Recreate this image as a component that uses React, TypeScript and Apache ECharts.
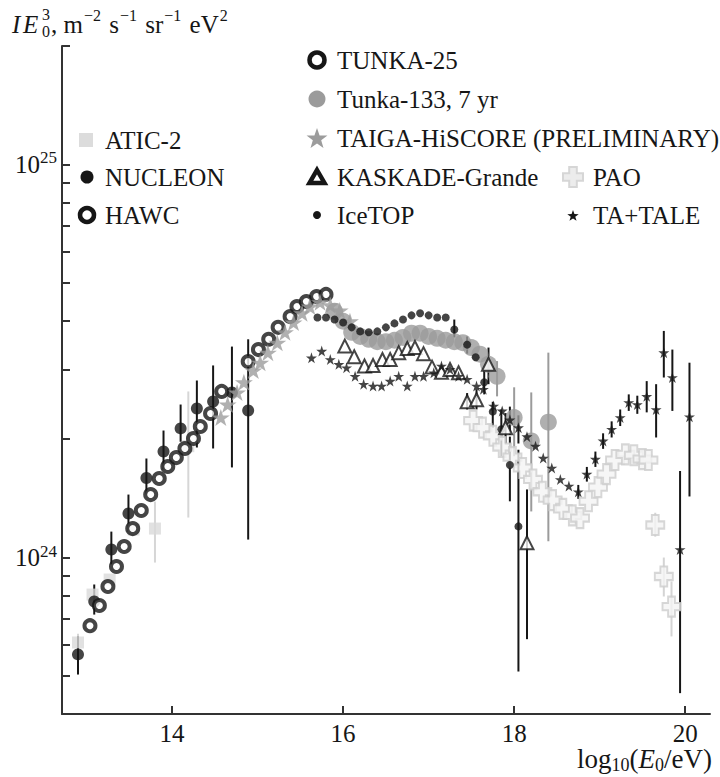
import React, { useEffect, useRef } from 'react';
import * as echarts from 'echarts';

const FONT = "'Liberation Serif', 'Times New Roman', serif";
const INK = '#161616';

// x: log10(E0/eV); y: I*E0^3 in units of 1e24 m^-2 s^-1 sr^-1 eV^2
const X_TICKS = [14, 16, 18, 20];
const Y_LABELS = [1, 10];
const Y_TICKS = [0.5, 0.6, 0.7, 0.8, 0.9, 1, 2, 3, 4, 5, 6, 7, 8, 9, 10, 20];

const ATIC2 = [[12.9, 0.608], [13.07, 0.805], [13.27, 0.879], [13.55, 1.178], [13.8, 1.185], [14.19, 1.92]];
const ATIC2_ERR = [[12.9, 0.58, 0.64], [13.8, 0.971, 1.388], [14.19, 1.264, 2.645]];

const NUCLEON = [[12.9, 0.567], [13.09, 0.773], [13.29, 1.048], [13.49, 1.294], [13.7, 1.593], [13.9, 1.861], [14.1, 2.13], [14.29, 2.394], [14.48, 2.494], [14.7, 2.63], [14.89, 2.366]];
const NUCLEON_ERR = [[12.9, 0.504, 0.629], [13.09, 0.716, 0.854], [13.29, 0.96, 1.164], [13.49, 1.164, 1.446], [13.7, 1.446, 1.786], [13.9, 1.675, 2.104], [14.1, 1.97, 2.45], [14.29, 1.905, 2.82], [14.48, 1.894, 3.08], [14.7, 1.695, 3.44], [14.89, 1.111, 3.59]];

const HAWC = [[13.04, 0.671], [13.15, 0.755], [13.25, 0.844], [13.35, 0.949], [13.44, 1.067], [13.54, 1.185], [13.64, 1.317], [13.75, 1.446], [13.85, 1.589], [13.95, 1.704], [14.05, 1.796], [14.15, 1.894], [14.25, 2.008], [14.33, 2.154], [14.45, 2.325], [14.58, 2.646]];

const TUNKA25 = [[14.89, 3.15], [15.01, 3.38], [15.13, 3.59], [15.24, 3.85], [15.38, 4.1], [15.46, 4.35], [15.57, 4.48], [15.69, 4.61], [15.8, 4.67]];

const TUNKA133 = [[15.9, 4.23], [16.0, 3.99], [16.1, 3.74], [16.2, 3.65], [16.3, 3.59], [16.4, 3.54], [16.5, 3.54], [16.6, 3.57], [16.7, 3.63], [16.8, 3.72], [16.9, 3.72], [17.0, 3.65], [17.1, 3.61], [17.2, 3.57], [17.3, 3.54], [17.4, 3.52], [17.5, 3.42], [17.6, 3.29], [17.7, 3.1], [17.8, 2.89], [18.0, 2.27], [18.2, 1.98], [18.4, 2.21]];
const TUNKA133_ERR = [[17.8, 2.57, 3.16], [18.0, 1.81, 2.71], [18.2, 1.31, 2.63], [18.4, 1.1, 3.32]];

const HISCORE = [[14.57, 2.27], [14.65, 2.45], [14.76, 2.63], [14.84, 2.79], [14.95, 2.99], [15.03, 3.13], [15.12, 3.32], [15.23, 3.52], [15.32, 3.74], [15.42, 3.96], [15.52, 4.18], [15.61, 4.35], [15.73, 4.46], [15.85, 4.38], [15.96, 4.25], [16.08, 3.99]];

const ICETOP = [[15.7, 4.08], [15.8, 4.08], [15.9, 4.03], [16.0, 3.96], [16.1, 3.85], [16.2, 3.76], [16.3, 3.74], [16.4, 3.76], [16.5, 3.85], [16.6, 3.94], [16.7, 4.03], [16.8, 4.13], [16.9, 4.18], [17.0, 4.13], [17.1, 4.08], [17.2, 4.08], [17.3, 3.8], [17.45, 3.48], [17.55, 3.23], [17.65, 2.79], [17.75, 2.35], [17.85, 2.12], [17.95, 1.72], [18.05, 1.2]];
const ICETOP_ERR = [[17.3, 3.63, 4.03], [17.45, 3.3, 3.65], [17.65, 2.6, 3.0], [17.75, 2.14, 2.49], [17.85, 1.81, 2.38], [17.95, 1.39, 2.03], [18.05, 0.513, 1.88]];

const KASKADE = [[16.02, 3.45], [16.13, 3.24], [16.25, 3.07], [16.35, 3.08], [16.46, 3.19], [16.55, 3.19], [16.65, 3.32], [16.75, 3.4], [16.84, 3.42], [16.94, 3.3], [17.04, 3.05], [17.15, 2.96], [17.25, 3.01], [17.35, 2.95], [17.45, 2.49], [17.56, 2.52], [17.7, 3.1], [17.9, 2.14], [18.15, 1.09]];
const KASKADE_ERR = [[17.45, 2.38, 2.62], [17.56, 2.38, 2.68], [17.7, 2.76, 3.42], [17.9, 1.95, 2.33], [18.15, 0.62, 1.49]];

const PAO = [[17.52, 2.23], [17.63, 2.14], [17.75, 2.04], [17.86, 1.91], [17.98, 1.8], [18.1, 1.69], [18.22, 1.58], [18.33, 1.47], [18.45, 1.4], [18.57, 1.33], [18.68, 1.28], [18.77, 1.26], [18.87, 1.39], [18.98, 1.51], [19.08, 1.63], [19.18, 1.77], [19.3, 1.83], [19.4, 1.82], [19.5, 1.78], [19.57, 1.77], [19.65, 1.21], [19.75, 0.895], [19.84, 0.75]];
const PAO_ERR = [[19.65, 1.13, 1.3], [19.75, 0.796, 1.0], [19.84, 0.63, 0.869]];

const TA_TALE = [[15.63, 3.22], [15.75, 3.35], [15.85, 3.19], [15.95, 3.1], [16.04, 3.04], [16.14, 2.89], [16.24, 2.76], [16.35, 2.73], [16.45, 2.73], [16.55, 2.81], [16.65, 2.89], [16.75, 2.73], [16.84, 2.89], [16.94, 2.89], [17.06, 2.95], [17.15, 3.07], [17.25, 3.01], [17.35, 2.89], [17.45, 2.84], [17.56, 2.73], [17.64, 2.68], [17.76, 2.43], [17.86, 2.36], [17.95, 2.24], [18.05, 2.14], [18.15, 2.03], [18.25, 1.92], [18.34, 1.79], [18.44, 1.69], [18.54, 1.58], [18.64, 1.52], [18.75, 1.47], [18.85, 1.63], [18.95, 1.78], [19.04, 1.98], [19.14, 2.12], [19.24, 2.27], [19.34, 2.48], [19.44, 2.45], [19.55, 2.57], [19.66, 2.38], [19.75, 3.32], [19.85, 2.87], [19.94, 1.048], [20.05, 2.28]];
const TA_TALE_ERR = [[17.95, 2.05, 2.42], [18.05, 1.95, 2.3], [18.75, 1.41, 1.53], [18.85, 1.56, 1.7], [18.95, 1.7, 1.86], [19.04, 1.89, 2.07], [19.14, 2.02, 2.22], [19.24, 2.16, 2.38], [19.34, 2.36, 2.6], [19.44, 2.32, 2.58], [19.55, 2.34, 2.81], [19.66, 2.02, 2.76], [19.75, 2.87, 3.77], [19.85, 2.36, 3.38], [19.94, 0.452, 1.66], [20.05, 1.43, 3.13]];

const STAR = 'path://M0,-100L22.4,-30.9L95.1,-30.9L36.3,11.8L58.8,80.9L0,38.2L-58.8,80.9L-36.3,11.8L-95.1,-30.9L-22.4,-30.9Z';
const PLUS = 'path://M-38,-100L38,-100L38,-36L100,-36L100,36L38,36L38,100L-38,100L-38,36L-100,36L-100,-36L-38,-36Z';

function errSeries(data: number[][], color: string) {
  return {
    type: 'custom',
    data,
    silent: true,
    encode: { x: 0, y: [1, 2] },
    renderItem: (_p: any, api: any) => {
      const x = api.value(0);
      const a = api.coord([x, api.value(1)]);
      const b = api.coord([x, api.value(2)]);
      return {
        type: 'line',
        shape: { x1: a[0], y1: a[1], x2: b[0], y2: b[1] },
        style: { stroke: color, lineWidth: 2 },
      };
    },
  };
}

function scatter(name: string, data: number[][], symbol: string, size: any, itemStyle: any) {
  return { type: 'scatter', name, data, symbol, symbolSize: size, itemStyle, silent: true };
}

function starPts(cx: number, cy: number, R: number) {
  const pts: number[][] = [];
  for (let k = 0; k < 10; k++) {
    const r = k % 2 === 0 ? R : R * 0.4;
    const a = -Math.PI / 2 + (k * Math.PI) / 5;
    pts.push([cx + r * Math.cos(a), cy + r * Math.sin(a)]);
  }
  return pts;
}
function plusPts(cx: number, cy: number, h: number, w: number) {
  const t = w * 0.38;
  const s = h * 0.38;
  return [[cx - t, cy - h], [cx + t, cy - h], [cx + t, cy - s], [cx + w, cy - s], [cx + w, cy + s], [cx + t, cy + s], [cx + t, cy + h], [cx - t, cy + h], [cx - t, cy + s], [cx - w, cy + s], [cx - w, cy - s], [cx - t, cy - s]];
}

function legendText(x: number, y: number, text: string) {
  return { type: 'text', x, y, silent: true, style: { text, fontSize: 25, fontFamily: FONT, fill: INK, verticalAlign: 'middle', align: 'left' } };
}

function buildLegend() {
  const els: any[] = [];
  // left column
  els.push({ type: 'rect', shape: { x: 79, y: 133, width: 14, height: 14 }, style: { fill: '#dcdcdc' } });
  els.push(legendText(105, 140, 'ATIC-2'));
  els.push({ type: 'circle', shape: { cx: 87, cy: 177, r: 6.5 }, style: { fill: INK } });
  els.push(legendText(105, 177, 'NUCLEON'));
  els.push({ type: 'circle', shape: { cx: 87, cy: 215, r: 7 }, style: { fill: '#fff', stroke: INK, lineWidth: 4.5 } });
  els.push(legendText(105, 215, 'HAWC'));
  // middle column
  els.push({ type: 'circle', shape: { cx: 317, cy: 60, r: 7.5 }, style: { fill: '#fff', stroke: INK, lineWidth: 4.5 } });
  els.push(legendText(337, 60, 'TUNKA-25'));
  els.push({ type: 'circle', shape: { cx: 317, cy: 99, r: 8.5 }, style: { fill: '#9b9b9b' } });
  els.push(legendText(337, 99, 'Tunka-133, 7 yr'));
  els.push({ type: 'polygon', shape: { points: starPts(317, 139, 11) }, style: { fill: '#9c9c9c' } });
  els.push(legendText(337, 138, 'TAIGA-HiSCORE (PRELIMINARY)'));
  els.push({ type: 'polygon', shape: { points: [[317, 170], [324.5, 183], [309.5, 183]] }, style: { fill: '#fff', stroke: INK, lineWidth: 4.5, lineJoin: 'miter' } });
  els.push(legendText(337, 177, 'KASKADE-Grande'));
  els.push({ type: 'circle', shape: { cx: 317, cy: 215, r: 4 }, style: { fill: INK } });
  els.push(legendText(337, 215, 'IceTOP'));
  // right column
  els.push({ type: 'polygon', shape: { points: plusPts(573, 177, 10, 10) }, style: { fill: '#ececec', stroke: '#d6d6d6', lineWidth: 2 } });
  els.push(legendText(593, 177, 'PAO'));
  els.push({ type: 'polygon', shape: { points: starPts(573, 216, 6) }, style: { fill: INK } });
  els.push(legendText(593, 215, 'TA+TALE'));

  // y axis title
  els.push({ type: 'text', x: 12, y: 24, silent: true, style: { text: 'I', fontSize: 25, fontStyle: 'italic', fontFamily: FONT, fill: INK, verticalAlign: 'middle' } });
  els.push({ type: 'text', x: 23, y: 24, silent: true, style: { text: 'E', fontSize: 25, fontStyle: 'italic', fontFamily: FONT, fill: INK, verticalAlign: 'middle' } });
  els.push({ type: 'text', x: 42, y: 14, silent: true, style: { text: '3', fontSize: 16, fontFamily: FONT, fill: INK, verticalAlign: 'middle' } });
  els.push({ type: 'text', x: 42, y: 31, silent: true, style: { text: '0', fontSize: 16, fontFamily: FONT, fill: INK, verticalAlign: 'middle' } });
  els.push({
    type: 'text', x: 51, y: 24, silent: true,
    style: {
      text: '{n|, m}{s|\u22122}{n| s}{s|\u22121}{n| sr}{s|\u22121}{n| eV}{s|2}',
      fontFamily: FONT, fill: INK, verticalAlign: 'middle',
      rich: {
        n: { fontSize: 25, lineHeight: 34, fontFamily: FONT, fill: INK },
        s: { fontSize: 16, lineHeight: 16, verticalAlign: 'top', fontFamily: FONT, fill: INK, padding: [0, 2, 0, 1] },
      },
    },
  });
  // x axis title
  els.push({
    type: 'text', x: 577, y: 759, silent: true,
    style: {
      text: '{n|log}{b|10}{n|(}{i|E}{b|0}{n|/eV)}',
      fontFamily: FONT, fill: INK, align: 'left', verticalAlign: 'middle',
      rich: {
        n: { fontSize: 27, lineHeight: 30, fontFamily: FONT, fill: INK },
        i: { fontSize: 27, lineHeight: 30, fontStyle: 'italic', fontFamily: FONT, fill: INK },
        b: { fontSize: 18, lineHeight: 14, verticalAlign: 'bottom', fontFamily: FONT, fill: INK },
      },
    },
  });
  return els;
}

export default function App() {
  const ref = useRef<HTMLDivElement>(null);
  useEffect(() => {
    const chart = echarts.init(ref.current!, null, { renderer: 'svg' });
    const axisColor = '#333';
    const option: any = {
      animation: false,
      backgroundColor: '#fff',
      textStyle: { fontFamily: FONT },
      grid: { left: 62, right: 10, top: 46, bottom: 63 },
      xAxis: {
        type: 'value',
        min: 12.713,
        max: 20.29,
        axisLine: { show: true, lineStyle: { color: axisColor, width: 2 } },
        axisTick: { show: true, inside: true, length: 8, customValues: X_TICKS, lineStyle: { color: axisColor, width: 2 } },
        axisLabel: { customValues: X_TICKS, fontSize: 25, lineHeight: 24, fontFamily: FONT, color: INK, margin: 7 },
        splitLine: { show: false },
      },
      yAxis: {
        type: 'log',
        logBase: 10,
        min: 0.4,
        max: 20,
        axisLine: { show: true, lineStyle: { color: axisColor, width: 2 } },
        axisTick: { show: true, inside: true, length: 8, customValues: Y_TICKS, lineStyle: { color: axisColor, width: 2 } },
        minorTick: { show: false },
        axisLabel: {
          customValues: Y_LABELS,
          margin: 5,
          formatter: (v: number) => (v > 5 ? '{b|10}{s|25}' : '{b|10}{s|24}'),
          rich: {
            b: { fontSize: 25, lineHeight: 30, fontFamily: FONT, color: INK },
            s: { fontSize: 17, lineHeight: 17, verticalAlign: 'top', fontFamily: FONT, color: INK },
          },
        },
        splitLine: { show: false },
      },
      series: [
        errSeries(PAO_ERR, '#d4d4d4'),
        scatter('PAO', PAO, PLUS, [18, 20], { color: '#f4f4f4', borderColor: '#cdcdcd', borderWidth: 2 }),
        errSeries(ATIC2_ERR, '#d6d6d6'),
        scatter('ATIC-2', ATIC2, 'rect', 12, { color: '#dadada' }),
        errSeries(NUCLEON_ERR, INK),
        scatter('NUCLEON', NUCLEON, 'circle', 12, { color: INK }),
        scatter('HAWC', HAWC, 'circle', 11, { color: '#fff', borderColor: INK, borderWidth: 4 }),
        scatter('TUNKA-25', TUNKA25, 'circle', 11, { color: '#fff', borderColor: INK, borderWidth: 4 }),
        errSeries(TUNKA133_ERR, '#9b9b9b'),
        scatter('Tunka-133, 7 yr', TUNKA133, 'circle', 17, { color: '#9b9b9b' }),
        scatter('TAIGA-HiSCORE (PRELIMINARY)', HISCORE, STAR, [18, 17], { color: '#9c9c9c' }),
        errSeries(ICETOP_ERR, INK),
        scatter('IceTOP', ICETOP, 'circle', 8, { color: INK }),
        errSeries(KASKADE_ERR, INK),
        scatter('KASKADE-Grande', KASKADE, 'triangle', 13, { color: '#fff', borderColor: INK, borderWidth: 2 }),
        errSeries(TA_TALE_ERR, INK),
        scatter('TA+TALE', TA_TALE, STAR, [11, 11], { color: INK }),
      ],
      graphic: buildLegend(),
    };
    chart.setOption(option);
    return () => chart.dispose();
  }, []);
  return <div ref={ref} style={{ position: 'absolute', left: 0, top: 0, width: 720, height: 777, background: '#fff' }} />;
}
